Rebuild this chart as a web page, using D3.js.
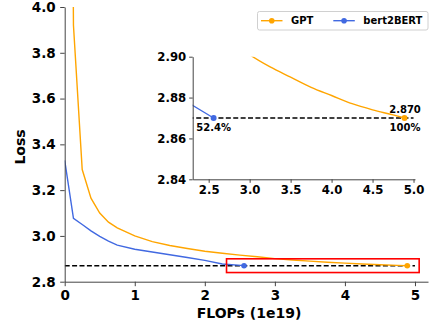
<!DOCTYPE html>
<html>
<head>
<meta charset="utf-8">
<script src="https://cdn.jsdelivr.net/npm/d3@7"></script>
<style>
  body { margin: 0; background: #fff; }
  svg { display: block; font-family: "DejaVu Sans", sans-serif; font-weight: bold; }
</style>
</head>
<body>
<div id="chart"></div>
<script>
// FLOPs (1e19) vs loss
const gptFlops = [0, 0.125, 0.25, 0.375, 0.5, 0.625, 0.75, 1.0, 1.25, 1.5, 1.75, 2.0, 2.25, 2.5, 2.75, 3.0, 3.25, 3.5, 3.75, 4.0, 4.25, 4.5, 4.75, 4.89]
const gptLoss = [10.0, 3.92, 3.29, 3.165, 3.10, 3.06, 3.035, 3.0, 2.975, 2.958, 2.945, 2.933, 2.924, 2.916, 2.909, 2.901, 2.895, 2.890, 2.885, 2.881, 2.877, 2.874, 2.8715, 2.870]
const b2bFlops = [0, 0.125, 0.25, 0.375, 0.5, 0.625, 0.75, 1.0, 1.25, 1.5, 1.75, 2.0, 2.25, 2.56]
const b2bLoss = [3.33, 3.077, 3.05, 3.022, 2.998, 2.977, 2.96, 2.942, 2.93, 2.918, 2.906, 2.893, 2.8775, 2.870]

const targetLoss = 2.870
const dashRange = [0, 5.0]
const zoomBox = { x: [2.31, 5.06], y: [2.84, 2.90] }

const mainXTicks = [0, 1, 2, 3, 4, 5]
const mainYTicks = [2.8, 3.0, 3.2, 3.4, 3.6, 3.8, 4.0]
const insetXTicks = [2.5, 3.0, 3.5, 4.0, 4.5, 5.0]
const insetYTicks = [2.84, 2.86, 2.88, 2.90]

const seriesNames = ["GPT", "bert2BERT"]
const colors = { GPT: "#ffa500", bert2BERT: "#4169e1" }

const width = 429, height = 323
const svg = d3.select("#chart").append("svg")
  .attr("width", width)
  .attr("height", height)

const spineColor = "#444"

// ---- main axes ----
const x = d3.scaleLinear().domain([0, 5.186]).range([64.7, 428])
const y = d3.scaleLinear().domain([2.8, 4.0]).range([281.7, 7])

svg.append("defs").append("clipPath").attr("id", "mainClip")
  .append("rect")
  .attr("x", x(0)).attr("y", y(4.0))
  .attr("width", x(5.186) - x(0)).attr("height", y(2.8) - y(4.0))

const line = (sx, sy, curve = d3.curveLinear) => d3.line().curve(curve).x(d => sx(d[0])).y(d => sy(d[1]))
const gptData = d3.zip(gptFlops, gptLoss)
const b2bData = d3.zip(b2bFlops, b2bLoss)

const main = svg.append("g").attr("clip-path", "url(#mainClip)")

main.append("line")
  .attr("x1", x(dashRange[0])).attr("x2", x(dashRange[1]))
  .attr("y1", y(targetLoss)).attr("y2", y(targetLoss))
  .attr("stroke", "#000").attr("stroke-width", 1.4)
  .attr("stroke-dasharray", "5,2.4")

main.append("path").datum(gptData)
  .attr("d", line(x, y))
  .attr("fill", "none").attr("stroke", colors.GPT).attr("stroke-width", 1.4)

main.append("path").datum(b2bData)
  .attr("d", line(x, y))
  .attr("fill", "none").attr("stroke", colors.bert2BERT).attr("stroke-width", 1.4)

// end markers
main.append("circle")
  .attr("cx", x(gptFlops[gptFlops.length - 1])).attr("cy", y(gptLoss[gptLoss.length - 1]))
  .attr("r", 2.8).attr("fill", colors.GPT)
main.append("circle")
  .attr("cx", x(b2bFlops[b2bFlops.length - 1])).attr("cy", y(b2bLoss[b2bLoss.length - 1]))
  .attr("r", 2.8).attr("fill", colors.bert2BERT)

// zoom rectangle
svg.append("rect")
  .attr("x", x(zoomBox.x[0])).attr("y", y(zoomBox.y[1]))
  .attr("width", x(zoomBox.x[1]) - x(zoomBox.x[0]))
  .attr("height", y(zoomBox.y[0]) - y(zoomBox.y[1]))
  .attr("fill", "none").attr("stroke", "#ff0000").attr("stroke-width", 1.6)

function styleAxis(g, fontSize) {
  g.selectAll(".domain").attr("stroke", spineColor).attr("stroke-width", 1)
  g.selectAll(".tick line").attr("stroke", spineColor).attr("stroke-width", 1)
  g.selectAll(".tick text")
    .attr("fill", "#000")
    .style("font-size", fontSize + "px")
    .style("font-weight", "bold")
    .style("font-family", "DejaVu Sans")
}

const xAxis = svg.append("g")
  .attr("transform", `translate(0,${y(2.8)})`)
  .call(d3.axisBottom(x).tickValues(mainXTicks).tickFormat(d3.format("d")).tickSizeInner(4.5).tickSizeOuter(0).tickPadding(4.5))
styleAxis(xAxis, 13.5)

const yAxis = svg.append("g")
  .attr("transform", `translate(${x(0)},0)`)
  .call(d3.axisLeft(y).tickValues(mainYTicks).tickFormat(d3.format(".1f")).tickSizeInner(4.5).tickSizeOuter(0).tickPadding(4.5))
styleAxis(yAxis, 13.5)

svg.append("text")
  .attr("x", 249).attr("y", 318)
  .attr("text-anchor", "middle")
  .style("font-size", "14px")
  .text("FLOPs (1e19)")

svg.append("text")
  .attr("transform", "translate(25,147) rotate(-90)")
  .attr("text-anchor", "middle")
  .style("font-size", "14px")
  .text("Loss")

// ---- legend ----
const legend = svg.append("g")
legend.append("rect")
  .attr("x", 257.5).attr("y", 11.5).attr("width", 170.5).attr("height", 18.5)
  .attr("rx", 2)
  .attr("fill", "#fff").attr("fill-opacity", 0.8)
  .attr("stroke", "#d0d0d0").attr("stroke-width", 1)
const legendPos = [{ x1: 261, tx: 291 }, { x1: 333.3, tx: 363.3 }]
seriesNames.forEach((name, i) => {
  const p = legendPos[i]
  legend.append("line")
    .attr("x1", p.x1).attr("x2", p.x1 + 21.5)
    .attr("y1", 20.7).attr("y2", 20.7)
    .attr("stroke", colors[name]).attr("stroke-width", 1.4)
  legend.append("circle")
    .attr("cx", p.x1 + 10.75).attr("cy", 20.7).attr("r", 2.8)
    .attr("fill", colors[name])
  legend.append("text")
    .attr("x", p.tx).attr("y", 24.4)
    .style("font-size", "10px")
    .text(name)
})

// ---- inset ----
const ix = d3.scaleLinear().domain([2.305, 5.018]).range([192.7, 415])
const iy = d3.scaleLinear().domain([2.84, 2.90]).range([179.3, 56.7])

svg.append("defs").append("clipPath").attr("id", "insetClip")
  .append("rect")
  .attr("x", ix(2.305)).attr("y", iy(2.90))
  .attr("width", ix(5.018) - ix(2.305)).attr("height", iy(2.84) - iy(2.90))

const inset = svg.append("g").attr("clip-path", "url(#insetClip)")

inset.append("line")
  .attr("x1", ix(dashRange[0])).attr("x2", ix(dashRange[1]))
  .attr("y1", iy(targetLoss)).attr("y2", iy(targetLoss))
  .attr("stroke", "#000").attr("stroke-width", 1.4)
  .attr("stroke-dasharray", "5,2.4")

inset.append("path").datum(gptData)
  .attr("d", line(ix, iy, d3.curveMonotoneX))
  .attr("fill", "none").attr("stroke", colors.GPT).attr("stroke-width", 1.4)
inset.append("path").datum(b2bData)
  .attr("d", line(ix, iy))
  .attr("fill", "none").attr("stroke", colors.bert2BERT).attr("stroke-width", 1.4)

const gptEnd = gptData[gptData.length - 1]
const b2bEnd = b2bData[b2bData.length - 1]
svg.append("circle")
  .attr("cx", ix(gptEnd[0])).attr("cy", iy(gptEnd[1]))
  .attr("r", 3).attr("fill", colors.GPT)
svg.append("circle")
  .attr("cx", ix(b2bEnd[0])).attr("cy", iy(b2bEnd[1]))
  .attr("r", 3).attr("fill", colors.bert2BERT)

const ixAxis = svg.append("g")
  .attr("transform", `translate(0,${iy(2.84)})`)
  .call(d3.axisBottom(ix).tickValues(insetXTicks).tickFormat(d3.format(".1f")).tickSizeInner(3.5).tickSizeOuter(0).tickPadding(3))
styleAxis(ixAxis, 11.7)

const iyAxis = svg.append("g")
  .attr("transform", `translate(${ix(2.305)},0)`)
  .call(d3.axisLeft(iy).tickValues(insetYTicks).tickFormat(d3.format(".2f")).tickSizeInner(3.5).tickSizeOuter(0).tickPadding(3))
styleAxis(iyAxis, 11.7)

// annotations
const pct = d3.format(".1%")
svg.append("text")
  .attr("x", ix(gptEnd[0]) + 0.5).attr("y", 113.3)
  .attr("text-anchor", "middle").style("font-size", "10px")
  .text(d3.format(".3f")(gptEnd[1]))
svg.append("text")
  .attr("x", ix(gptEnd[0]) + 0.5).attr("y", 131)
  .attr("text-anchor", "middle").style("font-size", "10px")
  .text("100%")
svg.append("text")
  .attr("x", ix(b2bEnd[0])).attr("y", 131)
  .attr("text-anchor", "middle").style("font-size", "10px")
  .text(pct(b2bEnd[0] / gptEnd[0]))
</script>
</body>
</html>
